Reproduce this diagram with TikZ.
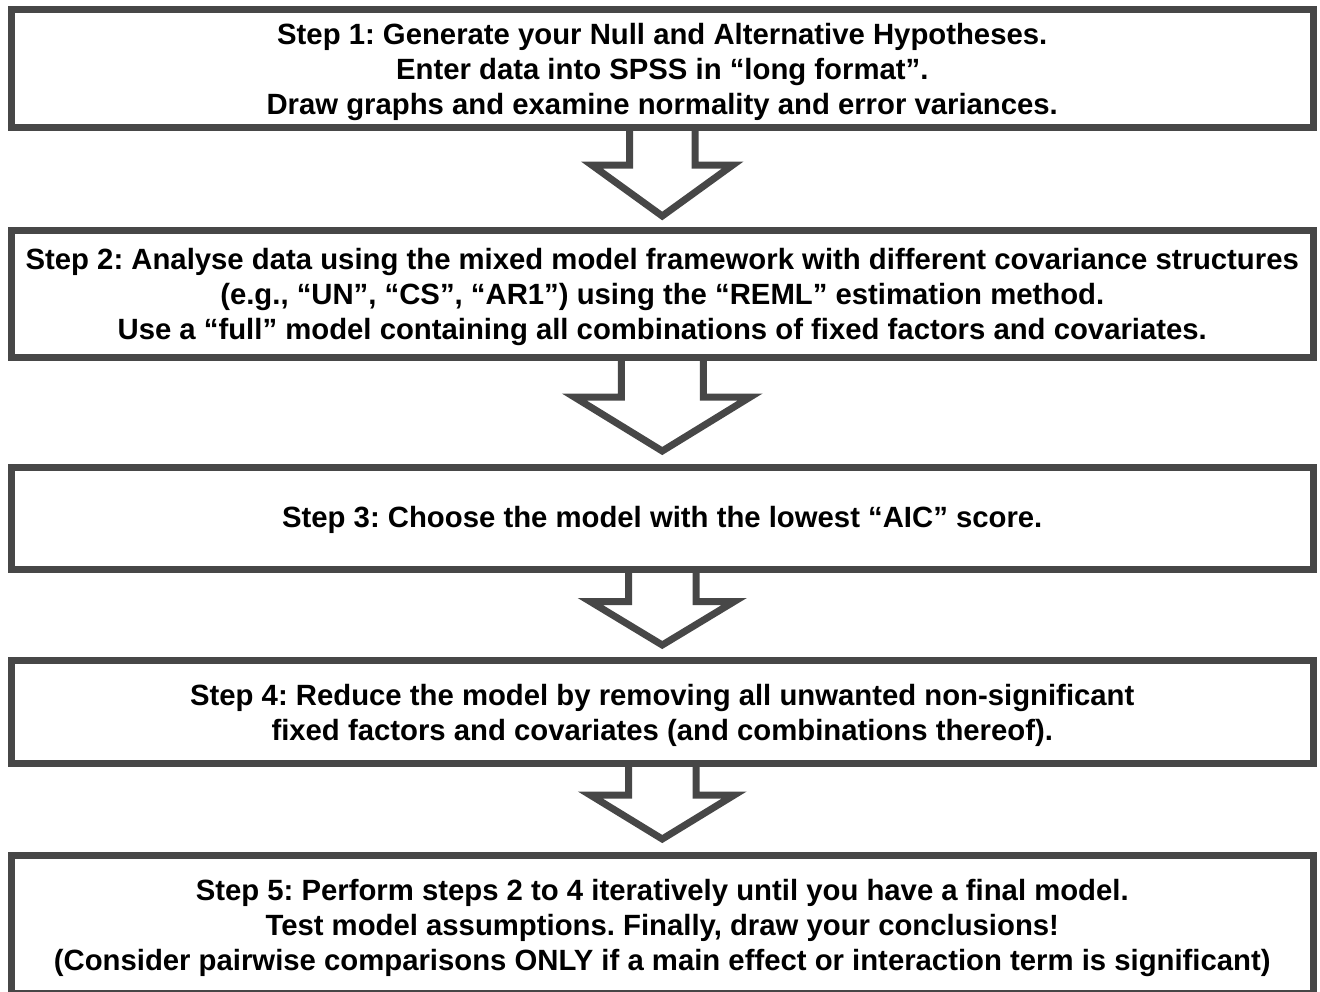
\documentclass[tikz,border=0pt]{standalone}
\usepackage{fontspec}
\setmainfont{Liberation Sans}
\usetikzlibrary{calc}
\definecolor{edgegray}{HTML}{474747}
\tikzset{
  stepbox/.style={draw=edgegray, line width=7pt, fill=white, inner sep=0pt, outer sep=0pt,
    minimum width=1301.5pt},
  steptext/.style={inner sep=0pt, align=center, font=\frenchspacing\bfseries\fontsize{29.3}{35}\selectfont},
  flowarrow/.style={draw=edgegray, line width=7pt, line join=miter, miter limit=20}
}
\begin{document}
\begin{tikzpicture}[x=1pt,y=-1pt]
\useasboundingbox[fill=white] (0,0) rectangle (1320,991);
\node[stepbox, minimum height=118pt] (b1) at (662.25,68.5) {};
\node[stepbox, minimum height=126.5pt] (b2) at (662.25,293.75) {};
\node[stepbox, minimum height=102.5pt] (b3) at (662.25,518.25) {};
\node[stepbox, minimum height=103pt] (b4) at (662.25,712) {};
\node[stepbox, minimum height=138pt] (b5) at (662.25,924) {};
\node[steptext] (t1) at ($(b1.center)+(0,3.5)$) {Step 1: Generate your Null and Alternative Hypotheses.\\Enter data into SPSS in “long format”.\\Draw graphs and examine normality and error variances.};
\node[steptext] (t2) at ($(b2.center)+(0,3.5)$) {Step 2: Analyse data using the mixed model framework with different covariance structures\\(e.g., “UN”, “CS”, “AR1”) using the “REML” estimation method.\\Use a “full” model containing all combinations of fixed factors and covariates.};
\node[steptext] (t3) at ($(b3.center)+(0,2)$) {Step 3: Choose the model with the lowest “AIC” score.};
\node[steptext] (t4) at ($(b4.center)+(0,3)$) {Step 4: Reduce the model by removing all unwanted non-significant\\fixed factors and covariates (and combinations thereof).};
\node[steptext] (t5) at ($(b5.center)+(0,4)$) {Step 5: Perform steps 2 to 4 iteratively until you have a final model.\\Test model assumptions. Finally, draw your conclusions!\\(Consider pairwise comparisons ONLY if a main effect or interaction term is significant)};
% arrows
\draw[flowarrow] ($(b1.south)+(-32.75,0)$) -- ++(0,37.5) -- ++(-37.75,0) -- ($(b1.south)+(0,88.5)$) -- ($(b1.south)+(70.5,37.5)$) -- ++(-37.75,0) -- ($(b1.south)+(32.75,0)$);
\draw[flowarrow] ($(b2.south)+(-41,0)$) -- ++(0,40) -- ++(-47,0) -- ($(b2.south)+(0,94)$) -- ($(b2.south)+(88,40)$) -- ++(-47,0) -- ($(b2.south)+(41,0)$);
\draw[flowarrow] ($(b3.south)+(-33.75,0)$) -- ++(0,32) -- ++(-38.25,0) -- ($(b3.south)+(0,75.5)$) -- ($(b3.south)+(72,32)$) -- ++(-38.25,0) -- ($(b3.south)+(33.75,0)$);
\draw[flowarrow] ($(b4.south)+(-33.75,0)$) -- ++(0,31.5) -- ++(-38.25,0) -- ($(b4.south)+(0,75.5)$) -- ($(b4.south)+(72,31.5)$) -- ++(-38.25,0) -- ($(b4.south)+(33.75,0)$);
\end{tikzpicture}
\end{document}
